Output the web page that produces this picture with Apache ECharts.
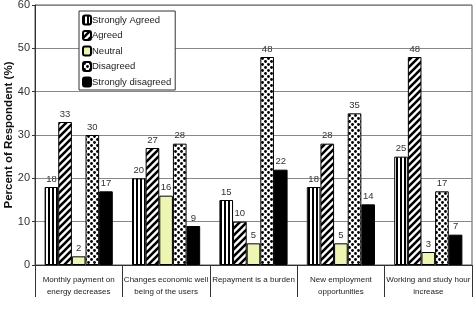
<!DOCTYPE html>
<html>
<head>
<meta charset="utf-8">
<script src="https://cdn.jsdelivr.net/npm/echarts@6/dist/echarts.min.js"></script>
<style>
  html, body { margin: 0; padding: 0; background: #fff; }
  #chart { width: 473px; height: 315px; }
</style>
</head>
<body>
<div id="chart"></div>
<script>
var categories = [
  "Monthly payment on\nenergy decreases",
  "Changes economic well\nbeing of the users",
  "Repayment is a burden",
  "New employment\nopportunities",
  "Working and study hour\nincrease"
];
var seriesNames = ["Strongly Agreed", "Agreed", "Neutral", "Disagreed", "Strongly disagreed"];
var stronglyAgreed = [18, 20, 15, 18, 25];
var agreed = [33, 27, 10, 28, 48];
var neutral = [2, 16, 5, 5, 3];
var disagreed = [30, 28, 48, 35, 17];
var stronglyDisagreed = [17, 9, 22, 14, 7];
var yTicks = [0, 10, 20, 30, 40, 50, 60];

// fill patterns
function makeCanvas(w, h, draw) {
  var c = document.createElement("canvas");
  c.width = w; c.height = h;
  draw(c.getContext("2d"));
  return c;
}
var vStripes = makeCanvas(4, 4, function (ctx) {
  ctx.fillStyle = "#fff"; ctx.fillRect(0, 0, 4, 4);
  ctx.fillStyle = "#000"; ctx.fillRect(0, 0, 2, 4);
});
var diagStripes = makeCanvas(7, 7, function (ctx) {
  ctx.fillStyle = "#fff"; ctx.fillRect(0, 0, 7, 7);
  ctx.strokeStyle = "#000"; ctx.lineWidth = 2.6;
  ctx.beginPath();
  ctx.moveTo(-1, 8); ctx.lineTo(8, -1);
  ctx.moveTo(-8, 8); ctx.lineTo(1, -1);
  ctx.moveTo(6, 8); ctx.lineTo(15, -1);
  ctx.stroke();
});
var dots = makeCanvas(6, 6, function (ctx) {
  ctx.fillStyle = "#fff"; ctx.fillRect(0, 0, 6, 6);
  ctx.fillStyle = "#000";
  ctx.beginPath(); ctx.arc(1.5, 1.5, 1.4, 0, Math.PI * 2); ctx.fill();
  ctx.beginPath(); ctx.arc(4.5, 4.5, 1.4, 0, Math.PI * 2); ctx.fill();
});

var fills = [
  { image: vStripes, repeat: "repeat" },
  { image: diagStripes, repeat: "repeat" },
  "#eef5b2",
  { image: dots, repeat: "repeat" },
  "#000"
];
var values = [stronglyAgreed, agreed, neutral, disagreed, stronglyDisagreed];

var series = seriesNames.map(function (name, i) {
  return {
    name: name,
    type: "bar",
    data: values[i],
    barGap: "0%",
    barCategoryGap: "22%",
    itemStyle: { color: fills[i], borderColor: "#000", borderWidth: 1 },
    label: {
      show: true,
      position: "top",
      distance: 3,
      color: "#333",
      fontSize: 9.5
    }
  };
});

var myChart = echarts.init(document.getElementById("chart"));
var option = {
  animation: false,
  textStyle: { fontFamily: "Liberation Sans" },
  grid: {
    left: 35, right: 1, top: 5, bottom: 50,
    outerBoundsMode: "none",
    containLabel: false,
    show: true, borderColor: "#555", borderWidth: 1
  },
  legend: {
    orient: "vertical",
    left: 79, top: 11,
    padding: [3, 4, 2, 3],
    itemWidth: 8, itemHeight: 9,
    itemGap: 3.5,
    backgroundColor: "#fff",
    borderColor: "#333",
    borderWidth: 1,
    textStyle: { color: "#222", fontSize: 9.5, lineHeight: 12, padding: [0, 0, 0, -4] },
    data: seriesNames
  },
  xAxis: {
    type: "category",
    data: categories,
    axisLine: { lineStyle: { color: "#333" } },
    axisTick: { show: true, length: 32, lineStyle: { color: "#333" } },
    axisLabel: { color: "#222", fontSize: 8, margin: 9, lineHeight: 12, interval: 0 }
  },
  yAxis: {
    type: "value",
    min: yTicks[0],
    max: yTicks[yTicks.length - 1],
    interval: 10,
    name: "Percent of Respondent (%)",
    nameLocation: "middle",
    nameGap: 20,
    nameMoveOverlap: false,
    nameTextStyle: { fontSize: 11.5, fontWeight: "bold", color: "#111" },
    axisLine: { show: true, lineStyle: { color: "#333" } },
    axisTick: { show: true, length: 3, lineStyle: { color: "#333" } },
    axisLabel: { color: "#333", fontSize: 11, margin: 5 },
    splitLine: { lineStyle: { color: "#888" } }
  },
  series: series
};
myChart.setOption(option);
</script>
</body>
</html>
